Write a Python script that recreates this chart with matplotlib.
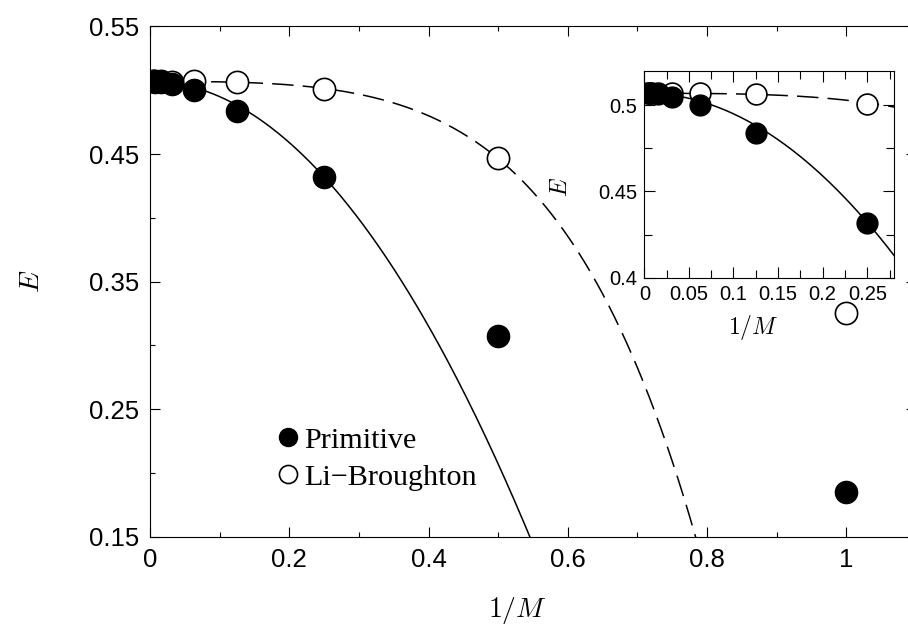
import numpy as np
import matplotlib.pyplot as plt
from matplotlib.lines import Line2D
from matplotlib.ticker import FuncFormatter, MultipleLocator
from numpy.polynomial import polynomial as P

plt.rcParams["font.family"] = ["Liberation Sans", "DejaVu Sans"]
plt.rcParams["mathtext.fontset"] = "cm"

# 1/M for M = 1, 2, 4, ..., 256
inv_m = [1.0, 0.5, 0.25, 0.125, 0.0625, 0.03125, 0.015625, 0.0078125, 0.00390625]
e_primitive = [0.185, 0.307, 0.4317, 0.484, 0.5003, 0.5048, 0.5065, 0.5068, 0.5069]
e_li_broughton = [0.325, 0.447, 0.5006, 0.5064, 0.5069, 0.5068, 0.5069, 0.5069, 0.5069]

# extrapolation fits, polynomial coefficients in 1/M (lowest order first)
fit_primitive = [0.507, 0.0, -1.2]
fit_li_broughton = [0.5069, 0.0, 0.0, -0.3065, 0.0, -0.71]

labels = ["Primitive", "Li\u2212Broughton"]

xs = np.linspace(0, 1.1, 400)
fit_p = P.polyval(xs, fit_primitive)
fit_lb = P.polyval(xs, fit_li_broughton)

fmt = FuncFormatter(lambda v, pos: "%g" % round(v, 4))


def style_axes(ax, size, major, minor):
    ax.tick_params(which="both", direction="in", top=True, right=True,
                   labelsize=size, width=0.8)
    ax.tick_params(which="major", length=major)
    ax.tick_params(which="minor", length=minor)
    for s in ax.spines.values():
        s.set_linewidth(0.8)
    ax.xaxis.set_major_formatter(fmt)
    ax.yaxis.set_major_formatter(fmt)


def draw_data(ax, ms):
    ax.plot(xs, fit_p, color="black", lw=1.1, zorder=2)
    ax.plot(xs, fit_lb, color="black", lw=1.1, dashes=(14, 6), zorder=2)
    ax.plot(inv_m, e_li_broughton, "o", ms=ms, mfc="white", mec="black",
            mew=1.2, zorder=3)
    ax.plot(inv_m, e_primitive, "o", ms=ms, color="black", zorder=4)


fig = plt.figure(figsize=(9.08, 6.32), dpi=100)
ax = fig.add_axes([0.1652, 0.1508, 0.8436, 0.8073])
draw_data(ax, 16)
ax.set_xlim(0, 1.1)
ax.set_ylim(0.15, 0.55)
ax.set_xticks(np.arange(0, 1.01, 0.2))
ax.xaxis.set_minor_locator(MultipleLocator(0.1))
ax.set_yticks(np.arange(0.15, 0.56, 0.1))
ax.set_yticks(np.arange(0.2, 0.55, 0.1), minor=True)
style_axes(ax, 18.5, 7.2, 3.6)
ax.tick_params(which="major", pad=8)
ax.set_xlabel(r"$1/M$", fontsize=20)
ax.set_ylabel(r"$E$", fontsize=20)
ax.xaxis.set_label_coords(0.479, -0.115)
ax.yaxis.set_label_coords(-0.137, 0.50)

handles = [
    Line2D([], [], ls="none", marker="o", ms=13, color="black"),
    Line2D([], [], ls="none", marker="o", ms=13, mfc="white", mec="black", mew=1.2),
]
ax.legend(handles, labels, loc="center left", bbox_to_anchor=(0.168, 0.153),
          frameon=False, borderpad=0, borderaxespad=0, handlelength=0.6,
          handletextpad=0.25, labelspacing=0.33,
          prop={"family": "Liberation Serif", "size": 21.7})

# zoom on the small-1/M region
ins = fig.add_axes([0.7096, 0.5606, 0.275, 0.3275])
ins.set_facecolor("white")
draw_data(ins, 15)
ins.set_xlim(0, 0.28)
ins.set_ylim(0.4, 0.52)
ins.xaxis.set_major_locator(MultipleLocator(0.05))
ins.xaxis.set_minor_locator(MultipleLocator(0.025))
ins.yaxis.set_major_locator(MultipleLocator(0.05))
ins.yaxis.set_minor_locator(MultipleLocator(0.025))
style_axes(ins, 14.5, 8, 6)
ins.tick_params(which="major", pad=5)
ins.set_xlabel(r"$1/M$", fontsize=17)
ins.set_ylabel(r"$E$", fontsize=17)
ins.xaxis.set_label_coords(0.435, -0.17)
ins.yaxis.set_label_coords(-0.29, 0.44)

fig.savefig("out.png", dpi=100)
